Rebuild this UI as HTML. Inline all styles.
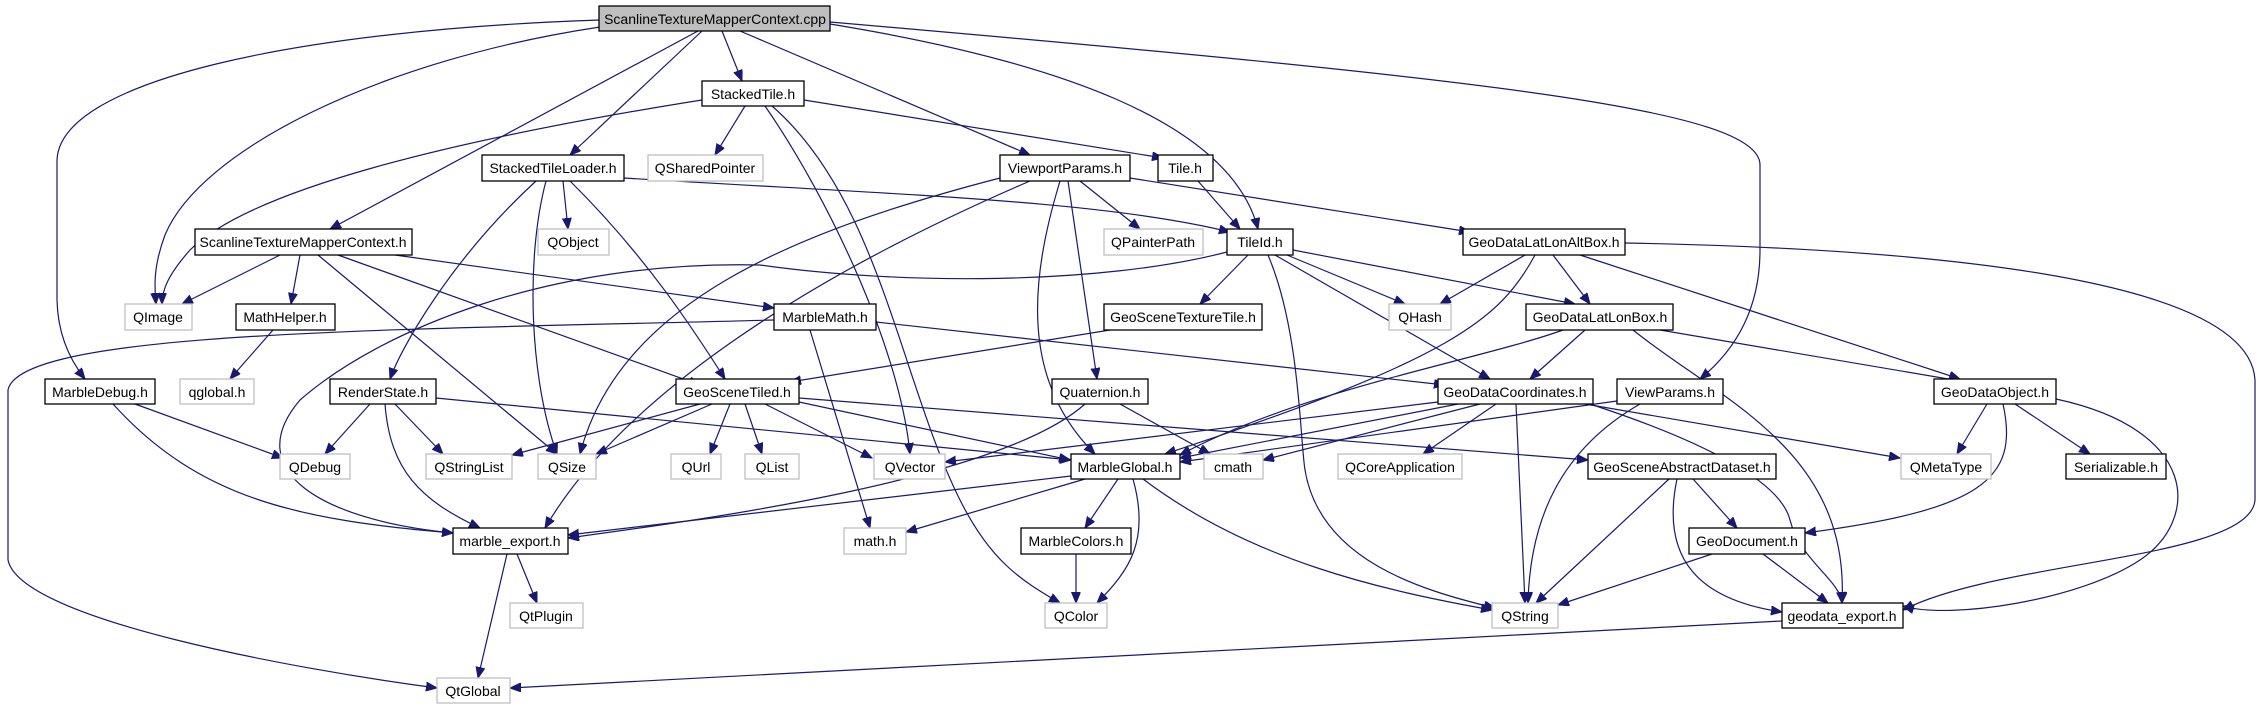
<!DOCTYPE html>
<html><head><meta charset="utf-8"><style>
html,body{margin:0;padding:0;background:#fff;}
svg{display:block;}
text{font-family:"Liberation Sans",Arial,sans-serif;font-size:14px;fill:#000;text-anchor:middle;}
.n rect{fill:#fff;stroke:#000;stroke-width:1.3;}
.g rect{fill:#fff;stroke:#bfbfbf;stroke-width:1.3;}
.e path{fill:none;stroke:#191970;stroke-width:1.2;marker-end:url(#a);}
</style></head><body>
<svg width="2263" height="709" viewBox="0 0 2263 709" xmlns="http://www.w3.org/2000/svg">
<defs><marker id="a" markerWidth="12" markerHeight="10" refX="11" refY="4.5" orient="auto" markerUnits="userSpaceOnUse"><path d="M0,0 L11,4.5 L0,9 z" fill="#191970" stroke="#191970"/></marker></defs>
<g class="e">
<path d="M600,20 C300,30 60,80 57,160 L57,300 Q58,345 85,379"/>
<path d="M600,27 C380,60 200,150 165,235 C152,270 155,290 156,304"/>
<path d="M702,100 C450,140 250,190 190,250 C168,275 162,290 162,304"/>
<path d="M698,31 L330,229"/>
<path d="M702,31 L570,155"/>
<path d="M722,31 L742,81"/>
<path d="M740,31 L1030,155"/>
<path d="M830,24 C1050,60 1230,120 1258,229"/>
<path d="M830,22 C1500,80 1760,110 1760,165 L1760,250 Q1760,330 1700,379"/>
<path d="M745,106 L715,155"/>
<path d="M804,100 L1163,158"/>
<path d="M765,106 C830,200 900,350 910,454"/>
<path d="M772,106 C880,200 900,380 960,500 C990,560 1020,580 1060,603"/>
<path d="M624,178 C900,195 1100,200 1230,232"/>
<path d="M563,181 L568,229"/>
<path d="M546,181 C525,260 530,380 557,454"/>
<path d="M536,181 C450,260 400,350 390,379"/>
<path d="M570,181 C650,260 700,340 725,379"/>
<path d="M1080,181 L1140,229"/>
<path d="M1130,178 L1470,232"/>
<path d="M1000,178 C800,230 620,300 580,454"/>
<path d="M1030,181 C800,280 620,400 545,528"/>
<path d="M1060,181 C1030,280 1020,380 1095,454"/>
<path d="M1068,181 L1097,379"/>
<path d="M1198,181 L1240,229"/>
<path d="M280,255 L182,304"/>
<path d="M300,255 L291,304"/>
<path d="M318,255 L557,454"/>
<path d="M338,255 L700,385"/>
<path d="M395,255 L774,308"/>
<path d="M273,330 L230,379"/>
<path d="M1248,255 L1200,304"/>
<path d="M1287,255 L1405,304"/>
<path d="M1293,250 L1575,304"/>
<path d="M1275,255 L1490,379"/>
<path d="M1268,255 C1300,330 1300,440 1305,470 C1320,560 1420,590 1495,608"/>
<path d="M1227,252 C1100,285 900,285 760,265 C550,260 380,330 300,400 C240,470 320,520 453,533"/>
<path d="M1525,255 L1440,304"/>
<path d="M1553,255 L1590,304"/>
<path d="M1580,255 L1960,379"/>
<path d="M1535,255 C1500,320 1450,360 1165,454"/>
<path d="M1625,243 C2000,250 2250,290 2255,380 L2255,500 C2250,560 2000,560 1903,610"/>
<path d="M774,320 C400,330 20,330 8,390 L8,560 C20,620 300,670 437,688"/>
<path d="M810,330 L870,528"/>
<path d="M876,322 L1445,385"/>
<path d="M1110,330 L790,382"/>
<path d="M1585,330 L1530,379"/>
<path d="M1563,330 C1480,360 1300,390 1180,455"/>
<path d="M1660,330 L1960,381"/>
<path d="M1633,330 C1720,400 1850,450 1842,603"/>
<path d="M135,404 L283,458"/>
<path d="M113,404 C200,500 300,520 453,533"/>
<path d="M370,404 L325,454"/>
<path d="M395,404 L443,454"/>
<path d="M385,404 C390,470 420,500 480,528"/>
<path d="M436,398 L1071,460"/>
<path d="M700,404 L512,455"/>
<path d="M712,404 L596,454"/>
<path d="M730,404 L710,454"/>
<path d="M745,404 L762,454"/>
<path d="M765,404 L872,458"/>
<path d="M799,402 L1070,460"/>
<path d="M799,398 L1588,460"/>
<path d="M1120,404 L1210,454"/>
<path d="M1085,404 C1000,480 700,520 568,538"/>
<path d="M1438,402 L945,462"/>
<path d="M1458,404 L1180,458"/>
<path d="M1480,404 L1263,460"/>
<path d="M1496,404 L1423,454"/>
<path d="M1516,404 L1525,603"/>
<path d="M1585,404 L1900,458"/>
<path d="M1590,404 C1700,440 1780,480 1790,520 C1800,560 1840,580 1842,603"/>
<path d="M1617,401 L1180,462"/>
<path d="M1640,404 C1560,450 1530,520 1528,603"/>
<path d="M1987,404 L1957,454"/>
<path d="M2015,404 L2090,454"/>
<path d="M2003,404 C2020,480 1980,510 1805,533"/>
<path d="M2056,399 C2200,430 2200,520 2140,560 C2080,600 1950,620 1903,606"/>
<path d="M1071,476 L568,535"/>
<path d="M1085,479 L906,532"/>
<path d="M1118,479 L1085,528"/>
<path d="M1133,479 C1150,540 1130,570 1097,603"/>
<path d="M1143,479 C1250,560 1380,590 1492,610"/>
<path d="M1076,554 L1076,603"/>
<path d="M1693,479 L1737,528"/>
<path d="M1669,479 L1536,603"/>
<path d="M1677,479 C1660,560 1700,600 1782,612"/>
<path d="M1712,554 L1558,605"/>
<path d="M1763,554 L1828,603"/>
<path d="M517,554 L537,603"/>
<path d="M507,554 L478,678"/>
<path d="M1782,621 L510,688"/>
</g>
<g class="n"><rect x="599" y="6" width="231" height="25" style="fill:#bfbfbf"/><text x="715" y="24">ScanlineTextureMapperContext.cpp</text></g>
<g class="n"><rect x="702" y="81" width="102" height="25"/><text x="753" y="99">StackedTile.h</text></g>
<g class="n"><rect x="482" y="155" width="142" height="26"/><text x="553" y="173">StackedTileLoader.h</text></g>
<g class="g"><rect x="648" y="155" width="115" height="26"/><text x="705" y="173">QSharedPointer</text></g>
<g class="n"><rect x="1000" y="155" width="130" height="26"/><text x="1065" y="173">ViewportParams.h</text></g>
<g class="n"><rect x="1158" y="155" width="55" height="26"/><text x="1185" y="173">Tile.h</text></g>
<g class="n"><rect x="195" y="229" width="217" height="26"/><text x="303" y="247">ScanlineTextureMapperContext.h</text></g>
<g class="g"><rect x="538" y="229" width="71" height="26"/><text x="573" y="247">QObject</text></g>
<g class="g"><rect x="1104" y="229" width="99" height="26"/><text x="1153" y="247">QPainterPath</text></g>
<g class="n"><rect x="1227" y="229" width="66" height="26"/><text x="1260" y="247">TileId.h</text></g>
<g class="n"><rect x="1463" y="229" width="162" height="26"/><text x="1544" y="247">GeoDataLatLonAltBox.h</text></g>
<g class="g"><rect x="125" y="304" width="67" height="26"/><text x="158" y="322">QImage</text></g>
<g class="n"><rect x="236" y="304" width="99" height="26"/><text x="285" y="322">MathHelper.h</text></g>
<g class="n"><rect x="774" y="304" width="102" height="26"/><text x="825" y="322">MarbleMath.h</text></g>
<g class="n"><rect x="1104" y="304" width="158" height="26"/><text x="1183" y="322">GeoSceneTextureTile.h</text></g>
<g class="g"><rect x="1389" y="304" width="62" height="26"/><text x="1420" y="322">QHash</text></g>
<g class="n"><rect x="1526" y="304" width="147" height="26"/><text x="1600" y="322">GeoDataLatLonBox.h</text></g>
<g class="n"><rect x="45" y="379" width="110" height="25"/><text x="100" y="397">MarbleDebug.h</text></g>
<g class="g"><rect x="180" y="379" width="74" height="25"/><text x="217" y="397">qglobal.h</text></g>
<g class="n"><rect x="330" y="379" width="106" height="25"/><text x="383" y="397">RenderState.h</text></g>
<g class="n"><rect x="676" y="379" width="123" height="25"/><text x="737" y="397">GeoSceneTiled.h</text></g>
<g class="n"><rect x="1052" y="379" width="96" height="25"/><text x="1100" y="397">Quaternion.h</text></g>
<g class="n"><rect x="1438" y="379" width="155" height="25"/><text x="1515" y="397">GeoDataCoordinates.h</text></g>
<g class="n"><rect x="1617" y="379" width="106" height="25"/><text x="1670" y="397">ViewParams.h</text></g>
<g class="n"><rect x="1934" y="379" width="122" height="25"/><text x="1995" y="397">GeoDataObject.h</text></g>
<g class="g"><rect x="280" y="454" width="70" height="25"/><text x="315" y="472">QDebug</text></g>
<g class="g"><rect x="426" y="454" width="86" height="25"/><text x="469" y="472">QStringList</text></g>
<g class="g"><rect x="538" y="454" width="58" height="25"/><text x="567" y="472">QSize</text></g>
<g class="g"><rect x="671" y="454" width="50" height="25"/><text x="696" y="472">QUrl</text></g>
<g class="g"><rect x="745" y="454" width="54" height="25"/><text x="772" y="472">QList</text></g>
<g class="g"><rect x="874" y="454" width="71" height="25"/><text x="910" y="472">QVector</text></g>
<g class="n"><rect x="1071" y="454" width="109" height="25"/><text x="1125" y="472">MarbleGlobal.h</text></g>
<g class="g"><rect x="1204" y="454" width="59" height="25"/><text x="1233" y="472">cmath</text></g>
<g class="g"><rect x="1338" y="454" width="124" height="25"/><text x="1400" y="472">QCoreApplication</text></g>
<g class="n"><rect x="1588" y="454" width="188" height="25"/><text x="1682" y="472">GeoSceneAbstractDataset.h</text></g>
<g class="g"><rect x="1901" y="454" width="90" height="25"/><text x="1946" y="472">QMetaType</text></g>
<g class="n"><rect x="2066" y="454" width="100" height="25"/><text x="2116" y="472">Serializable.h</text></g>
<g class="n"><rect x="453" y="528" width="115" height="26"/><text x="510" y="546">marble_export.h</text></g>
<g class="g"><rect x="844" y="528" width="62" height="26"/><text x="875" y="546">math.h</text></g>
<g class="n"><rect x="1021" y="528" width="110" height="26"/><text x="1076" y="546">MarbleColors.h</text></g>
<g class="n"><rect x="1689" y="528" width="116" height="26"/><text x="1747" y="546">GeoDocument.h</text></g>
<g class="g"><rect x="510" y="603" width="73" height="25"/><text x="546" y="621">QtPlugin</text></g>
<g class="g"><rect x="1045" y="603" width="62" height="25"/><text x="1076" y="621">QColor</text></g>
<g class="g"><rect x="1492" y="603" width="66" height="25"/><text x="1525" y="621">QString</text></g>
<g class="n"><rect x="1782" y="603" width="121" height="25"/><text x="1842" y="621">geodata_export.h</text></g>
<g class="g"><rect x="437" y="678" width="73" height="25"/><text x="473" y="696">QtGlobal</text></g>
</svg>
</body></html>
